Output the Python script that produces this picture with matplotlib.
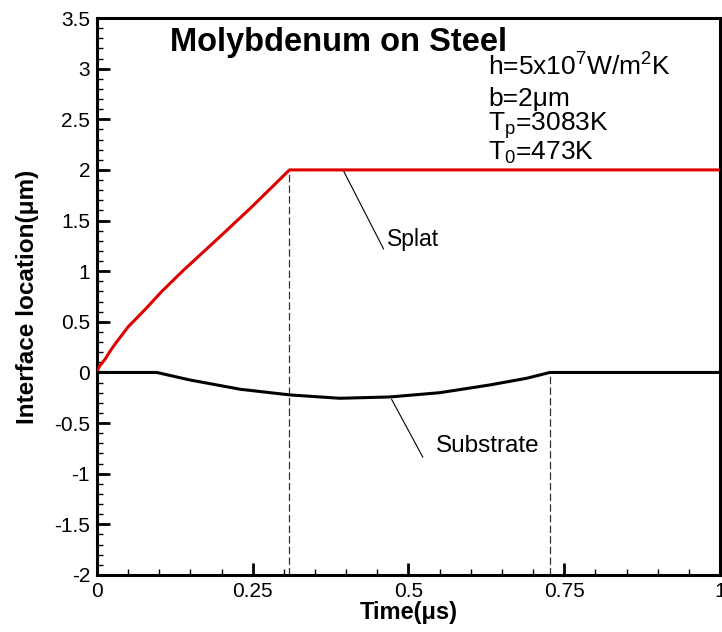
import numpy as np
import matplotlib
matplotlib.use('Agg')
import matplotlib.pyplot as plt
from matplotlib.ticker import MultipleLocator, FixedLocator, FixedFormatter

# interface position vs time
splat_t = [0, 0.002, 0.005, 0.009, 0.013, 0.02, 0.029, 0.05, 0.077, 0.104, 0.139, 0.192, 0.246, 0.309, 1.0]
splat_z = [0, 0.035, 0.07, 0.1, 0.13, 0.2, 0.28, 0.45, 0.62, 0.80, 1.01, 1.31, 1.62, 2.0, 2.0]

sub_t = [0, 0.096, 0.149, 0.23, 0.31, 0.39, 0.47, 0.55, 0.631, 0.69, 0.727, 1.0]
sub_z = [0, 0, -0.074, -0.166, -0.222, -0.255, -0.242, -0.2, -0.123, -0.057, 0, 0]

xticks = [0, 0.25, 0.5, 0.75, 1]
xlabels = ['0', '0.25', '0.5', '0.75', '1']
yticks = [-2, -1.5, -1, -0.5, 0, 0.5, 1, 1.5, 2, 2.5, 3, 3.5]
ylabels = ['-2', '-1.5', '-1', '-0.5', '0', '0.5', '1', '1.5', '2', '2.5', '3', '3.5']

params_text = ['h=5x10$^7$W/m$^2$K', 'b=2\u03bcm', 'T$_p$=3083K', 'T$_0$=473K']

params = {
    'font.family': 'Liberation Sans',
    'mathtext.default': 'regular',
    'xtick.labelsize': 15,
    'ytick.labelsize': 15,
    'figure.figsize': [7.22, 6.32],
    'figure.dpi': 100,
}
plt.rcParams.update(params)

fig, ax = plt.subplots()
fig.subplots_adjust(left=0.1343, right=0.9972, bottom=0.0902, top=0.9715)

ax.plot(splat_t, splat_z, color='#dd0000', lw=2.2, solid_joinstyle='round', zorder=3)
ax.plot(sub_t, sub_z, color='black', lw=2.2, solid_joinstyle='round', zorder=3)

# dashed markers where each front stops moving
ax.vlines(splat_t[-2], -2, splat_z[-2], colors='#333333', lw=0.9, linestyles=(0, (6, 2.5)))
ax.vlines(sub_t[-2], -2, sub_z[-2], colors='#333333', lw=0.9, linestyles=(0, (6, 2.5)))

# leader lines + labels
ax.plot([0.395, 0.46], [2.0, 1.22], color='black', lw=0.8)
ax.text(0.465, 1.31, 'Splat', fontsize=16.5, va='center', ha='left')
ax.plot([0.473, 0.523], [-0.266, -0.836], color='black', lw=0.8)
ax.text(0.544, -0.73, 'Substrate', fontsize=17.5, va='center', ha='left')

ax.text(0.117, 3.26, 'Molybdenum on Steel', fontsize=23.5, fontweight='bold', va='center')
for s, yy in zip(params_text, [3.02, 2.70, 2.44, 2.17]):
    ax.text(0.628, yy, s, fontsize=19, va='center', ha='left')

ax.set_xlim(0, 1)
ax.set_ylim(-2, 3.5)
ax.xaxis.set_major_locator(FixedLocator(xticks))
ax.xaxis.set_major_formatter(FixedFormatter(xlabels))
ax.yaxis.set_major_locator(FixedLocator(yticks))
ax.yaxis.set_major_formatter(FixedFormatter(ylabels))
ax.xaxis.set_minor_locator(MultipleLocator(0.05))
ax.yaxis.set_minor_locator(MultipleLocator(0.1))
ax.tick_params(which='both', direction='in', top=False, right=False)
ax.tick_params(which='major', length=9, width=2, pad=5)
ax.tick_params(which='minor', length=4.5, width=1)
for sp in ax.spines.values():
    sp.set_linewidth(2.2)

ax.set_xlabel('Time(\u03bcs)', fontsize=17, fontweight='bold', labelpad=0)
ax.set_ylabel('Interface location(\u03bcm)', fontsize=17.5, fontweight='bold', labelpad=11)

fig.savefig('out.png', dpi=100)
